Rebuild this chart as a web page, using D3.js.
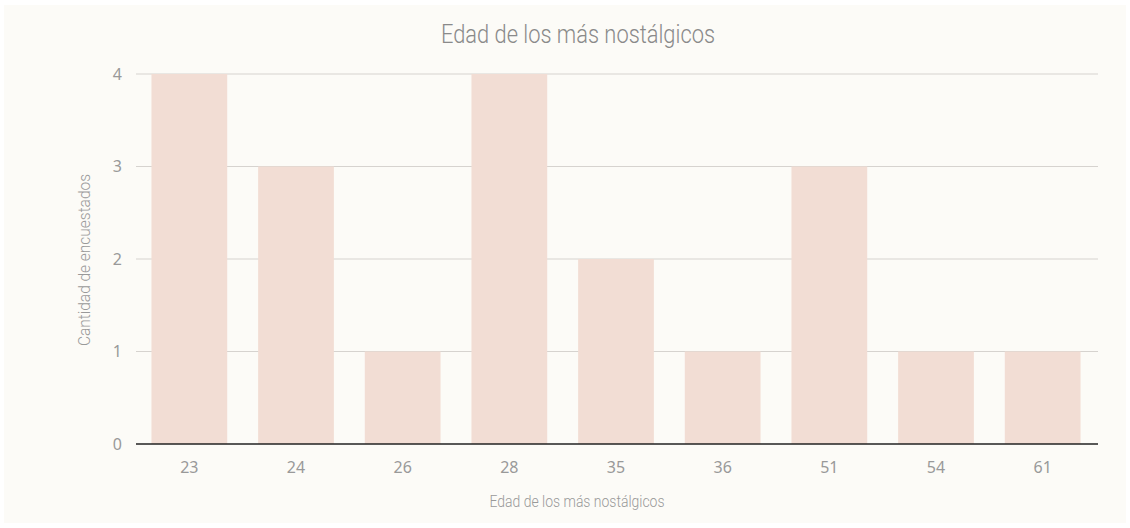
<!DOCTYPE html>
<html lang="es">
<head>
<meta charset="utf-8">
<title>Edad de los más nostálgicos</title>
<script src="https://d3js.org/d3.v7.min.js"></script>
<style>
  body { margin: 0; background: #ffffff; }
  text { font-family: "Noto Sans", "Open Sans", sans-serif; }
  .cond { font-family: Roboto, "Noto Sans", sans-serif; font-weight: 300; }
</style>
</head>
<body>
<svg id="chart" width="1130" height="528"></svg>
<script>
  var edades = ["23", "24", "26", "28", "35", "36", "51", "54", "61"];
  var cantidad = [4, 3, 1, 4, 2, 1, 3, 1, 1];
  var yTicks = [0, 1, 2, 3, 4];

  var svg = d3.select("#chart");

  svg.append("rect")
      .attr("x", 4).attr("y", 5)
      .attr("width", 1122).attr("height", 518)
      .attr("fill", "#fcfbf7");

  // plot box
  var pLeft = 136, pRight = 1098, pTop = 74, pBottom = 444;

  var x = d3.scaleBand()
      .domain(edades)
      .range([pLeft, pRight - 2])
      .paddingInner(0.29)
      .paddingOuter(0.145);

  var y = d3.scaleLinear()
      .domain([0, 4])
      .range([pBottom, pTop]);

  // grid
  svg.append("g")
    .selectAll("line")
    .data(yTicks.filter(function(d) { return d > 0; }))
    .join("line")
      .attr("x1", pLeft).attr("x2", pRight)
      .attr("y1", function(d) { return y(d); })
      .attr("y2", function(d) { return y(d); })
      .attr("stroke", "#d6d3cf")
      .attr("stroke-width", 1);

  // bars
  svg.append("g")
    .selectAll("rect")
    .data(edades)
    .join("rect")
      .attr("x", function(d) { return x(d); })
      .attr("width", x.bandwidth())
      .attr("y", function(d, i) { return y(cantidad[i]); })
      .attr("height", function(d, i) { return y(0) - y(cantidad[i]); })
      .attr("fill", "#f2ddd4");

  // baseline
  svg.append("line")
      .attr("x1", pLeft).attr("x2", pRight)
      .attr("y1", y(0)).attr("y2", y(0))
      .attr("stroke", "#222")
      .attr("stroke-width", 1.5);

  // y tick labels
  svg.append("g")
    .selectAll("text")
    .data(yTicks)
    .join("text")
      .attr("x", 122)
      .attr("y", function(d) { return y(d); })
      .attr("dy", "0.35em")
      .attr("text-anchor", "end")
      .attr("font-size", 16)
      .attr("fill", "#999")
      .text(function(d) { return d; });

  // x tick labels
  svg.append("g")
    .selectAll("text")
    .data(edades)
    .join("text")
      .attr("x", function(d) { return x(d) + x.bandwidth() / 2; })
      .attr("y", 473)
      .attr("text-anchor", "middle")
      .attr("font-size", 16)
      .attr("fill", "#999")
      .text(function(d) { return d; });

  // title
  svg.append("text")
      .attr("class", "cond")
      .attr("x", 578).attr("y", 43)
      .attr("text-anchor", "middle")
      .attr("font-size", 26)
      .attr("fill", "#8a8a8a")
      .attr("textLength", 274)
      .attr("lengthAdjust", "spacingAndGlyphs")
      .text("Edad de los más nostálgicos");

  // x axis title
  svg.append("text")
      .attr("class", "cond")
      .attr("x", 577).attr("y", 507)
      .attr("text-anchor", "middle")
      .attr("font-size", 16)
      .attr("fill", "#999")
      .attr("textLength", 175)
      .attr("lengthAdjust", "spacingAndGlyphs")
      .text("Edad de los más nostálgicos");

  // y axis title
  svg.append("text")
      .attr("class", "cond")
      .attr("transform", "translate(90,260) rotate(-90)")
      .attr("text-anchor", "middle")
      .attr("font-size", 16)
      .attr("fill", "#999")
      .attr("textLength", 172)
      .attr("lengthAdjust", "spacingAndGlyphs")
      .text("Cantidad de encuestados");
</script>
</body>
</html>
